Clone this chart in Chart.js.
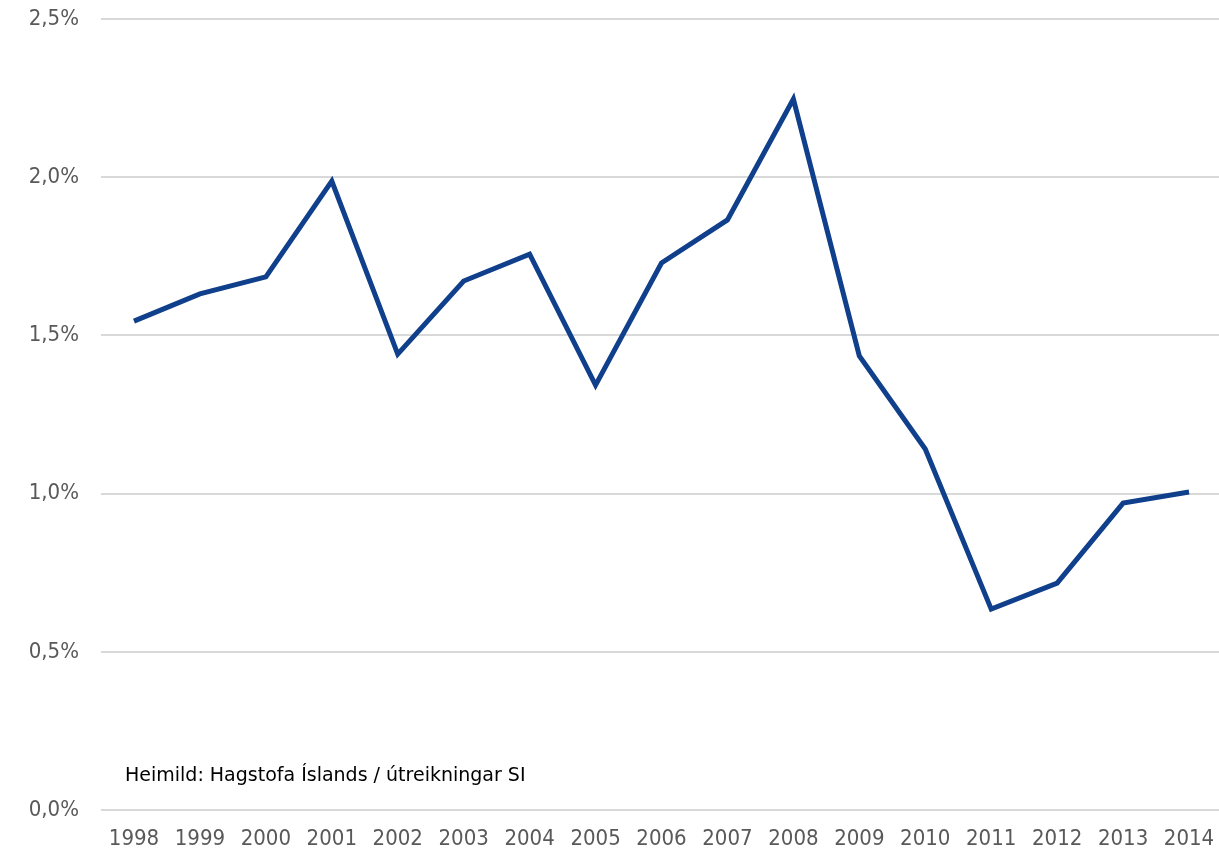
<!DOCTYPE html>
<html>
<head>
<meta charset="utf-8">
<script src="https://cdn.jsdelivr.net/npm/chart.js@4"></script>
<style>
    html, body { margin: 0; padding: 0; background: #fff; overflow: hidden; }
    #wrap { width: 1219px; height: 852px; overflow: hidden; }
</style>
</head>
<body>
<div id="wrap"><canvas id="lineChart" width="1222" height="852"></canvas></div>
<script>
const years = ['1998', '1999', '2000', '2001', '2002', '2003', '2004', '2005', '2006',
    '2007', '2008', '2009', '2010', '2011', '2012', '2013', '2014'];
const shareValues = [1.545, 1.631, 1.685, 1.988, 1.441, 1.672, 1.757, 1.343, 1.729,
    1.865, 2.247, 1.435, 1.141, 0.635, 0.717, 0.970, 1.005];
const yTicks = [0, 0.5, 1.0, 1.5, 2.0, 2.5];
const sourceNote = 'Heimild: Hagstofa Íslands / útreikningar SI';

const tickFont = { family: '"DejaVu Sans Condensed", "DejaVu Sans", sans-serif', size: 22 };

// source line drawn inside the plot, bottom left
const sourcePlugin = {
    id: 'sourceNote',
    afterDraw(chart) {
        const ctx = chart.ctx;
        ctx.save();
        ctx.font = '19px "DejaVu Sans", sans-serif';
        ctx.fillStyle = '#000';
        ctx.textBaseline = 'middle';
        ctx.fillText(sourceNote, 125, 776);
        ctx.restore();
    }
};

const ctx = document.getElementById('lineChart').getContext('2d');
new Chart(ctx, {
    type: 'line',
    data: {
        labels: years,
        datasets: [{
            data: shareValues,
            borderColor: '#103f8b',
            borderWidth: 5,
            pointRadius: 0,
            tension: 0,
            fill: false
        }]
    },
    options: {
        responsive: false,
        animation: false,
        layout: { padding: { top: 19, right: 0, left: 0, bottom: 0 } },
        plugins: {
            legend: { display: false },
            tooltip: { enabled: false }
        },
        scales: {
            x: {
                offset: true,
                grid: { display: false, drawTicks: false },
                border: { display: false },
                ticks: { color: '#595959', font: tickFont, padding: 16, maxRotation: 0, autoSkip: false },
                afterFit(scale) {
                    scale.height = 42;
                    scale.paddingLeft = 0;
                    scale.paddingRight = 0;
                }
            },
            y: {
                min: 0,
                max: 2.5,
                afterBuildTicks(scale) { scale.ticks = yTicks.map(v => ({ value: v })); },
                grid: { color: '#d9d9d9', lineWidth: 2, drawTicks: false },
                border: { display: false },
                ticks: {
                    color: '#595959',
                    font: tickFont,
                    padding: 22,
                    callback: v => v.toFixed(1).replace('.', ',') + '%'
                },
                afterFit(scale) {
                    scale.width = 101;
                    scale.paddingTop = 0;
                    scale.paddingBottom = 0;
                }
            }
        }
    },
    plugins: [sourcePlugin]
});
</script>
</body>
</html>
